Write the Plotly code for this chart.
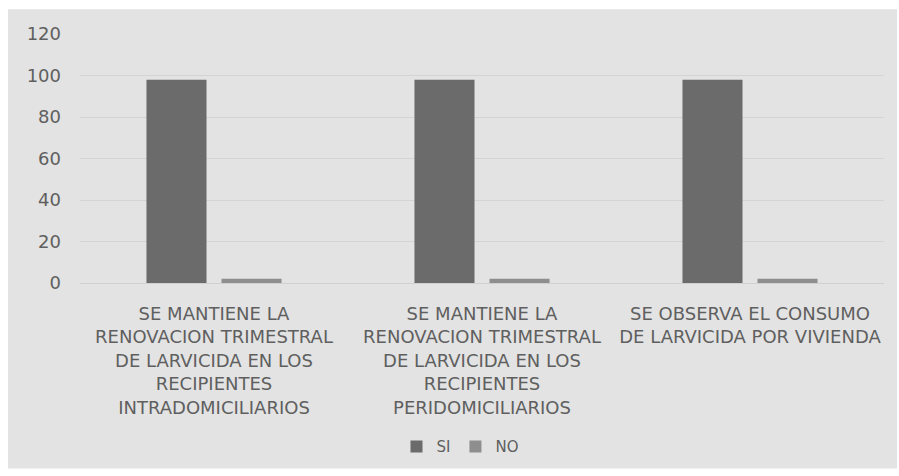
import plotly.graph_objects as go

categories = [
    "SE MANTIENE LA<br>RENOVACION TRIMESTRAL<br>DE LARVICIDA EN LOS<br>RECIPIENTES<br>INTRADOMICILIARIOS",
    "SE MANTIENE LA<br>RENOVACION TRIMESTRAL<br>DE LARVICIDA EN LOS<br>RECIPIENTES<br>PERIDOMICILIARIOS",
    "SE OBSERVA EL CONSUMO<br>DE LARVICIDA POR VIVIENDA",
]
si_values = [98, 98, 98]
no_values = [2, 2, 2]
y_ticks = [0, 20, 40, 60, 80, 100, 120]

FONT = "DejaVu Sans"
TXT = "#5f5f5f"

fig = go.Figure()
fig.add_trace(go.Bar(name="SI", x=categories, y=si_values, marker=dict(color="#6b6b6b", line=dict(width=0))))
fig.add_trace(go.Bar(name="NO", x=categories, y=no_values, marker=dict(color="#8e8e8e", line=dict(width=0))))

L, R, T, B = 80, 15, 34, 191
W, H = 899, 476
pw, ph = W - L - R, H - T - B

def px(x):
    return (x - L) / pw

def py(y):
    return (H - B - y) / ph

fig.update_layout(
    width=W, height=H,
    margin=dict(l=L, r=R, t=T, b=B),
    paper_bgcolor="white",
    plot_bgcolor="rgba(0,0,0,0)",
    barmode="group",
    bargap=0.44,
    bargroupgap=0.2,
    font=dict(family=FONT, color=TXT, size=15),
    showlegend=True,
    legend=dict(orientation="h", x=px(460), y=py(450), xanchor="center", yanchor="middle",
                font=dict(size=15, color=TXT), bgcolor="rgba(0,0,0,0)", itemwidth=30,
                traceorder="normal"),
    shapes=[dict(type="rect", xref="paper", yref="paper", x0=px(8), x1=px(897), y0=py(472), y1=py(9),
                 fillcolor="#e3e3e3", line=dict(width=0), layer="below")],
    xaxis=dict(showgrid=False, showline=False, ticks="", tickfont=dict(size=18, color=TXT), tickangle=0,
               ticklabelstandoff=18, automargin=False),
    yaxis=dict(range=[0, 120], tickvals=y_ticks, showgrid=True, gridcolor="#d4d4d4", gridwidth=1,
               zeroline=True, zerolinecolor="#d0d0d0", zerolinewidth=1, showline=False,
               tickfont=dict(size=18, color=TXT), ticklabelstandoff=18, automargin=False),
)

fig.write_html("out.html")
